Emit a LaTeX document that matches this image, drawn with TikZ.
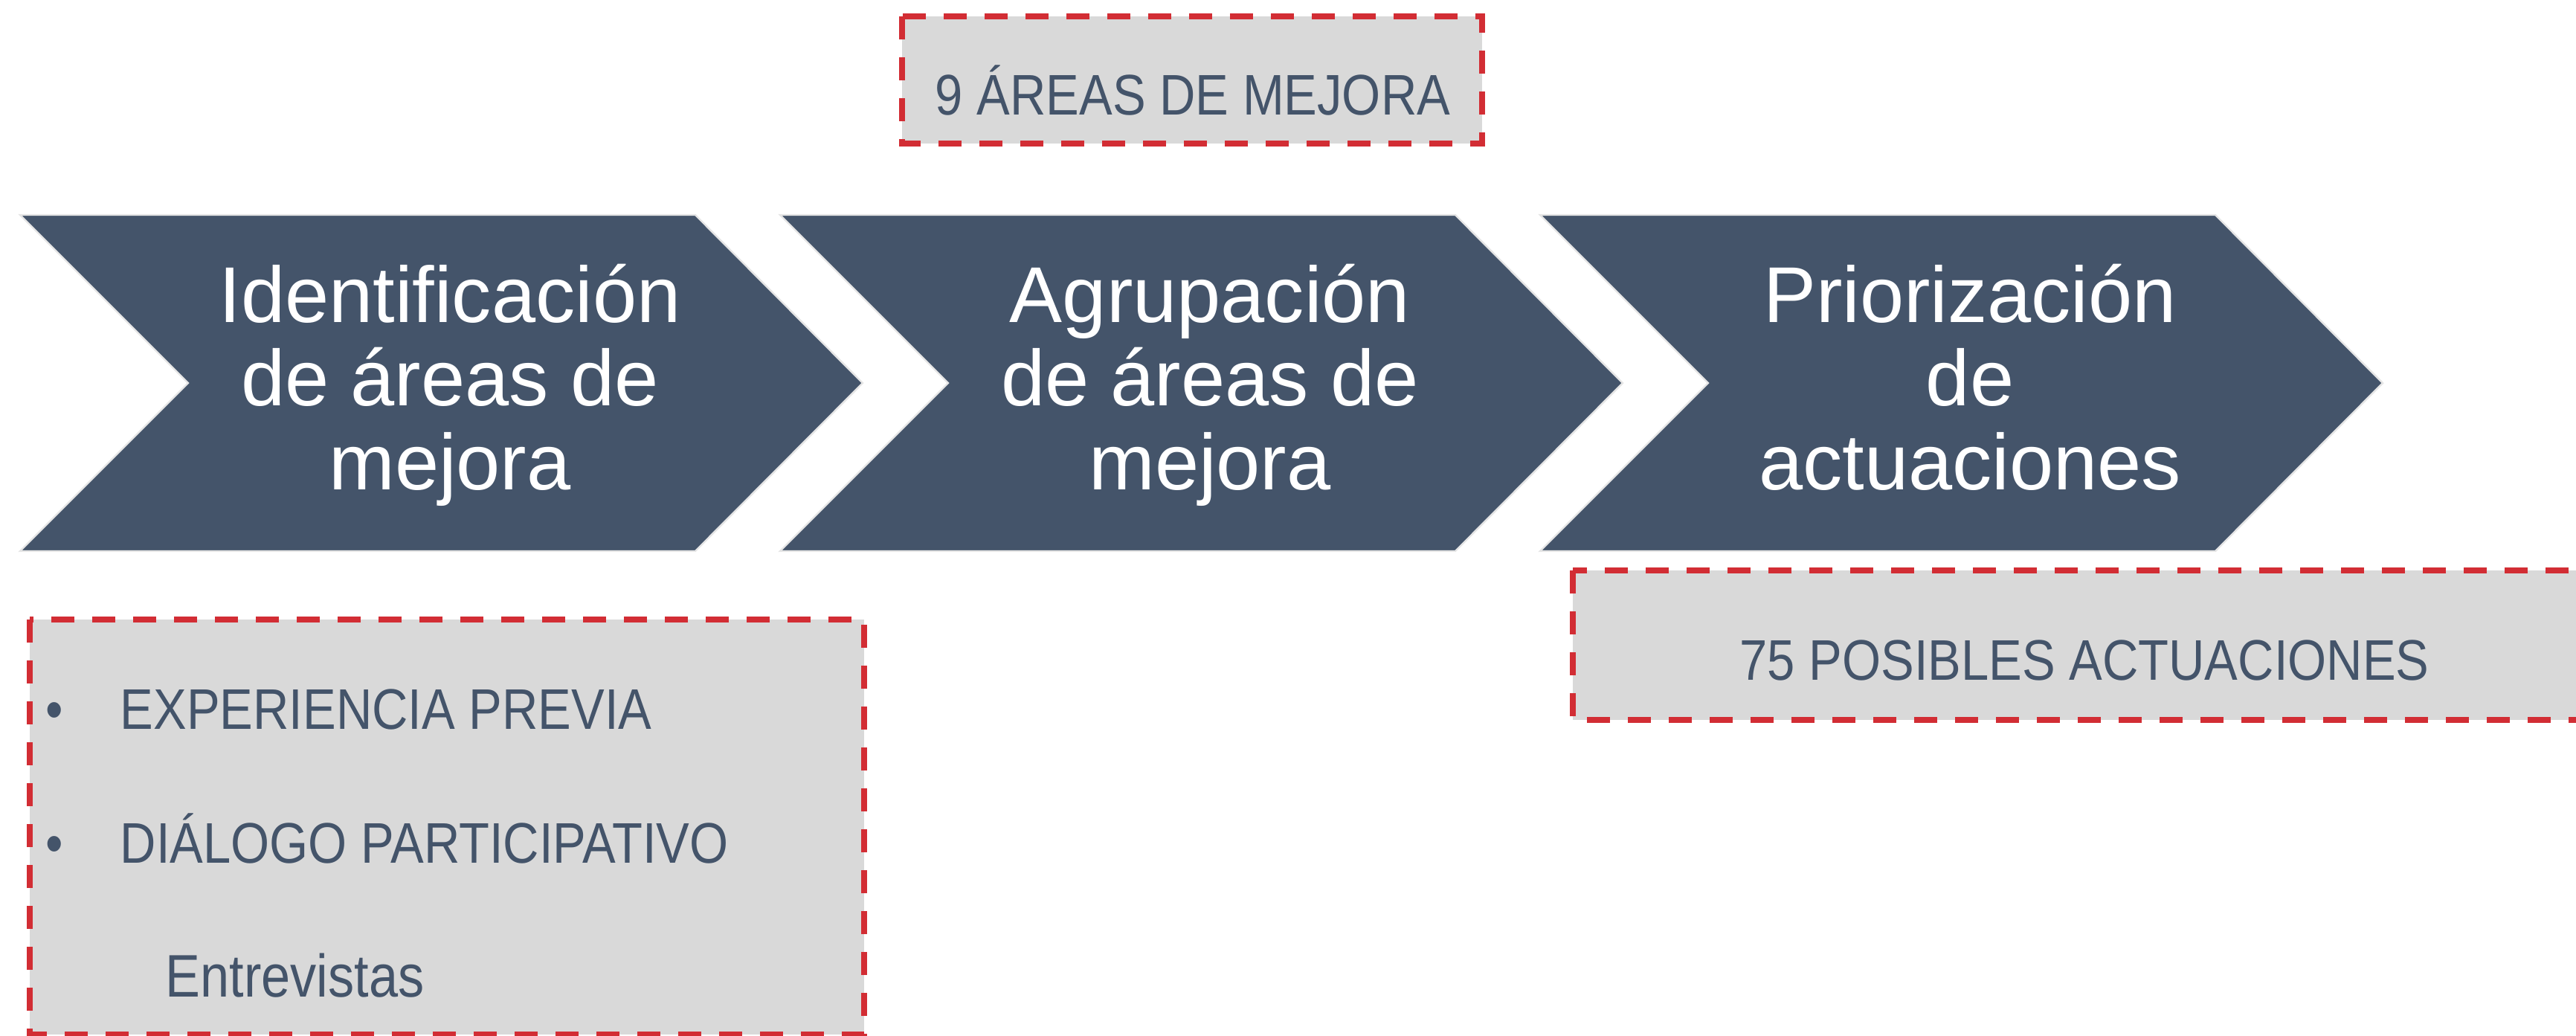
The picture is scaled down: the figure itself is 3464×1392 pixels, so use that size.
\documentclass[tikz,border=0pt]{standalone}
\usepackage{fontspec}
\setmainfont{Liberation Sans}
\newfontfamily\boxfont{Liberation Sans}[FakeStretch=0.87]
\definecolor{slate}{HTML}{44546A}
\definecolor{boxgray}{HTML}{D9D9D9}
\definecolor{dashred}{RGB}{210,45,52}
\tikzset{
  chev/.style={fill=slate, draw=black!10, line width=0.6pt},
  chevtext/.style={text=white, font=\fontsize{26.6}{28}\selectfont, anchor=base, inner sep=0pt},
  redbox/.style={fill=boxgray, draw=dashred, line width=2pt, dash pattern=on 7.75pt off 6pt},
  boxtext/.style={text=slate, font=\boxfont\fontsize{19.25}{22}\selectfont, inner sep=0pt},
}
\begin{document}
\begin{tikzpicture}[x=0.25pt,y=-0.25pt]
\useasboundingbox (0,0) rectangle (3464,1392);
% chevrons
\foreach \xo/\la/\lb/\lc/\nm in {27/Identificación/de áreas de/mejora/c1,
                                 1049/Agrupación/de áreas de/mejora/c2,
                                 2071/Priorización/de/actuaciones/c3}{
  \draw[chev] (\xo,289) -- (\xo+908,289) -- (\xo+1133,515) -- (\xo+908,741)
              -- (\xo,741) -- (\xo+226,515) -- cycle;
  \node[chevtext] (\nm a) at (\xo+578,433) {\la};
  \node[chevtext] (\nm b) at (\xo+578,545) {\lb};
  \node[chevtext] (\nm c) at (\xo+578,658) {\lc};
}
% top box
\draw[redbox] (1213,22) rectangle (1993,193);
\node[boxtext, anchor=base] (toptext) at (1604,154) {9 ÁREAS DE MEJORA};
% right box
\draw[redbox] (2115,767) rectangle (3491,968);
\node[boxtext, anchor=base] (righttext) at (2803,914) {75 POSIBLES ACTUACIONES};
% left box
\draw[redbox] (40,833) rectangle (1162,1391);
\node[boxtext, anchor=base] (bul1) at (73,980) {•};
\node[boxtext, anchor=base west] (item1) at (161,980) {EXPERIENCIA PREVIA};
\node[boxtext, anchor=base] (bul2) at (73,1160) {•};
\node[boxtext, anchor=base west] (item2) at (161,1160) {DIÁLOGO PARTICIPATIVO};
\node[boxtext, anchor=base west, font=\boxfont\fontsize{20.2}{22}\selectfont] (item3) at (222,1340) {Entrevistas};
\end{tikzpicture}
\end{document}
